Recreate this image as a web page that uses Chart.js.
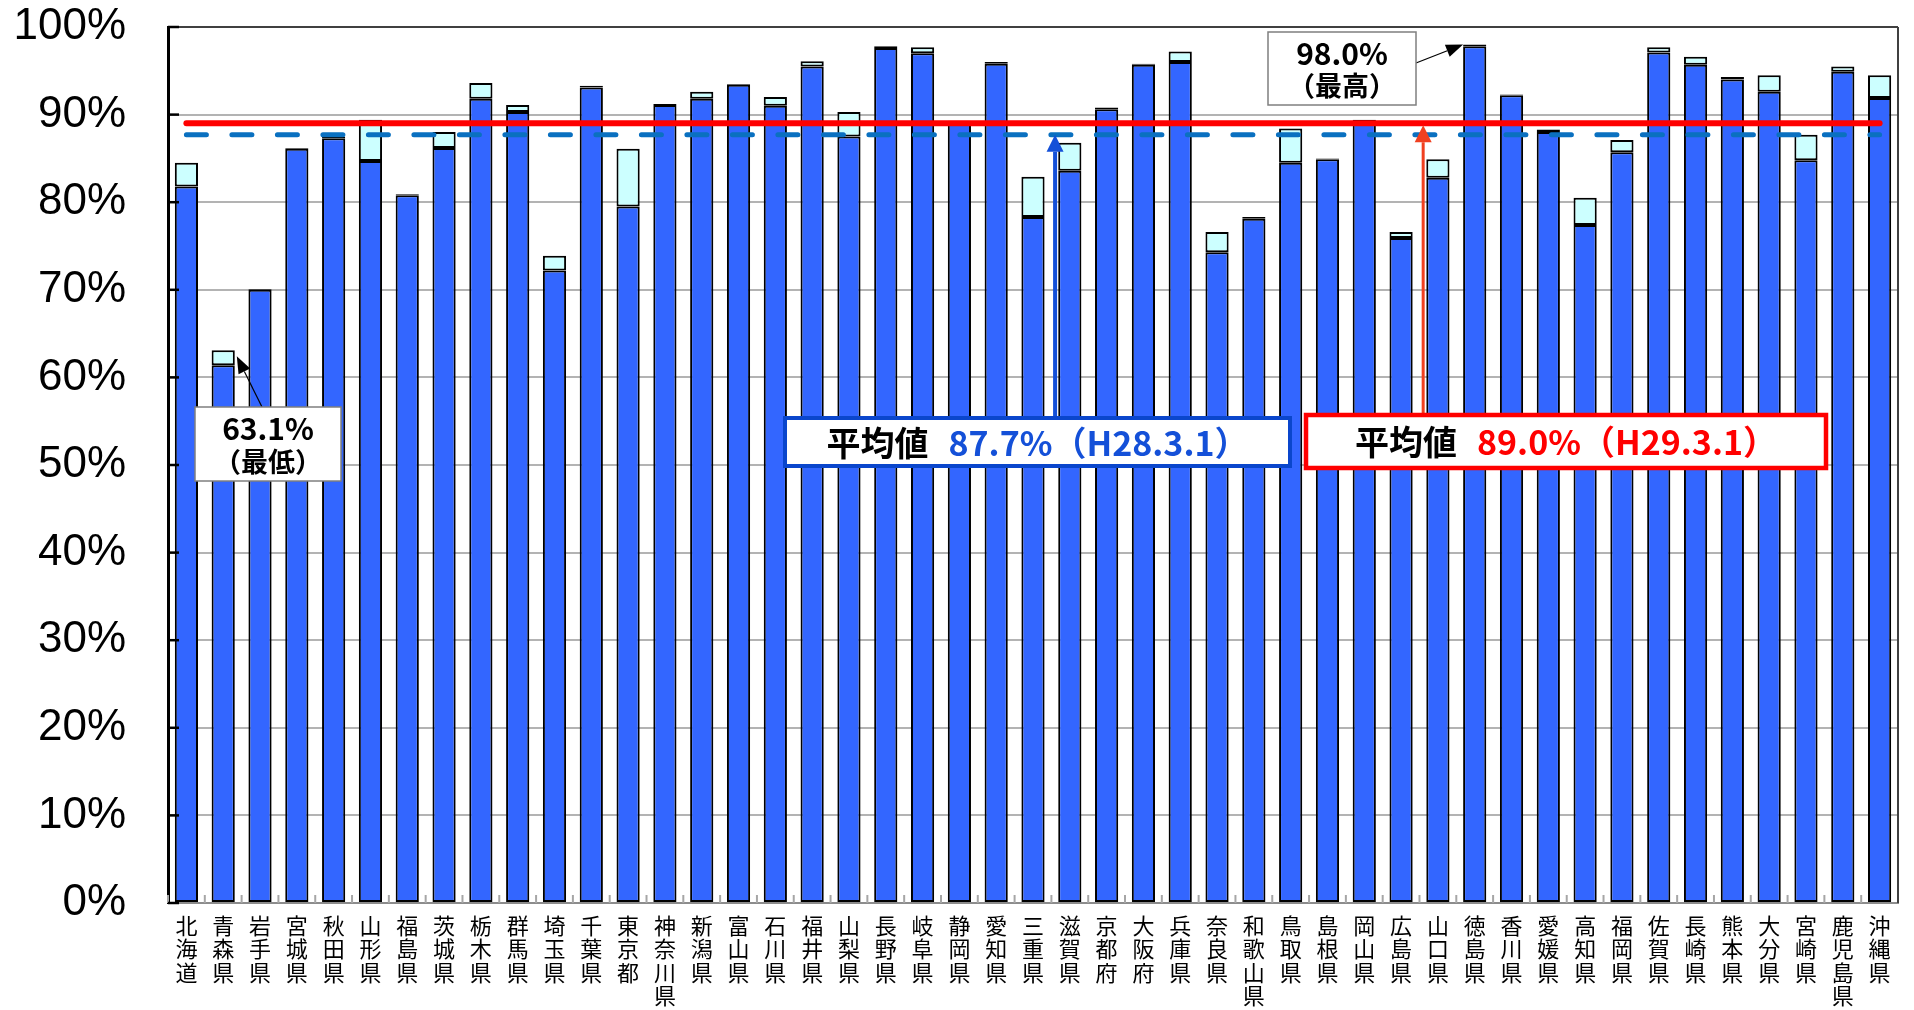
<!DOCTYPE html>
<html lang="ja">
<head>
<meta charset="utf-8">
<title>都道府県別 割合</title>
<script src="https://cdn.jsdelivr.net/npm/chart.js@4.4.1/dist/chart.umd.min.js"></script>
<style>
  html, body { margin: 0; padding: 0; background: #fff; }
  #wrap { position: relative; width: 1914px; height: 1010px; }
</style>
</head>
<body>
<div id="wrap"><canvas id="rateChart"></canvas></div>
<script>
const prefs = [
  "北海道", "青森県", "岩手県", "宮城県", "秋田県", "山形県", "福島県", "茨城県",
  "栃木県", "群馬県", "埼玉県", "千葉県", "東京都", "神奈川県", "新潟県", "富山県",
  "石川県", "福井県", "山梨県", "長野県", "岐阜県", "静岡県", "愛知県", "三重県",
  "滋賀県", "京都府", "大阪府", "兵庫県", "奈良県", "和歌山県", "鳥取県", "島根県",
  "岡山県", "広島県", "山口県", "徳島県", "香川県", "愛媛県", "高知県", "福岡県",
  "佐賀県", "長崎県", "熊本県", "大分県", "宮崎県", "鹿児島県", "沖縄県"
];
// H28.3.1
const rateH28 = [
  81.8, 61.4, 70.0, 86.1, 87.3, 84.7, 80.8, 86.2,
  91.8, 90.3, 72.2, 93.1, 79.5, 91.1, 91.8, 93.4,
  91.0, 95.5, 87.5, 97.6, 97.0, 89.1, 95.8, 78.3,
  83.6, 90.6, 95.7, 96.0, 74.3, 78.1, 84.5, 84.9,
  89.2, 75.9, 82.8, 97.8, 92.2, 88.0, 77.4, 85.7,
  97.1, 95.7, 94.0, 92.6, 84.8, 94.9, 91.9
];
// H29.3.1
const rateH29 = [
  84.5, 63.1, 70.1, 86.2, 87.5, 89.4, 80.9, 88.0,
  93.6, 91.1, 73.9, 93.3, 86.1, 91.2, 92.6, 93.5,
  92.0, 96.1, 90.3, 97.8, 97.7, 89.3, 96.0, 82.9,
  86.8, 90.8, 95.8, 97.2, 76.6, 78.3, 88.4, 85.0,
  89.4, 76.6, 84.9, 98.0, 92.3, 88.3, 80.5, 87.1,
  97.7, 96.6, 94.3, 94.5, 87.7, 95.5, 94.5
];
const avgH28 = 87.7;
const avgH29 = 89.0;
const yTickStep = 10;

const rateUp = rateH29.map((v, i) => Math.round((v - rateH28[i]) * 10) / 10);
const lowIdx = rateH29.indexOf(Math.min(...rateH29));
const highIdx = rateH29.indexOf(Math.max(...rateH29));
const firstPref = prefs[0];
const lastPref = prefs[prefs.length - 1];

const JP = '"Noto Sans CJK JP", "Noto Sans", sans-serif';

function arrow(ctx, x1, y1, x2, y2, color, w, hl, hw) {
  const ang = Math.atan2(y2 - y1, x2 - x1);
  const bx = x2 - hl * Math.cos(ang), by = y2 - hl * Math.sin(ang);
  ctx.strokeStyle = color;
  ctx.lineWidth = w;
  ctx.beginPath();
  ctx.moveTo(x1, y1);
  ctx.lineTo(bx, by);
  ctx.stroke();
  ctx.fillStyle = color;
  ctx.beginPath();
  ctx.moveTo(x2, y2);
  ctx.lineTo(bx + hw / 2 * Math.sin(ang), by - hw / 2 * Math.cos(ang));
  ctx.lineTo(bx - hw / 2 * Math.sin(ang), by + hw / 2 * Math.cos(ang));
  ctx.closePath();
  ctx.fill();
}

function avgBox(ctx, box, label, value, color, borderColor, lw) {
  ctx.fillStyle = "#fff";
  ctx.fillRect(box.x, box.y, box.w, box.h);
  ctx.strokeStyle = borderColor;
  ctx.lineWidth = lw;
  ctx.strokeRect(box.x, box.y, box.w, box.h);
  ctx.font = "bold 34px " + JP;
  ctx.textBaseline = "middle";
  ctx.textAlign = "left";
  const gap = 20;
  const w1 = ctx.measureText(label).width;
  const w2 = ctx.measureText(value).width;
  const tx = box.x + box.w / 2 - (w1 + gap + w2) / 2;
  const ty = box.y + box.h / 2 + 1;
  ctx.fillStyle = "#000";
  ctx.fillText(label, tx, ty);
  ctx.fillStyle = color;
  ctx.fillText(value, tx + w1 + gap, ty);
}

function callout(ctx, box, line1, line2) {
  ctx.fillStyle = "#fff";
  ctx.fillRect(box.x, box.y, box.w, box.h);
  ctx.strokeStyle = "#7f7f7f";
  ctx.lineWidth = 1.5;
  ctx.strokeRect(box.x, box.y, box.w, box.h);
  ctx.fillStyle = "#000";
  ctx.textAlign = "center";
  ctx.textBaseline = "middle";
  ctx.font = "bold 30px " + JP;
  ctx.fillText(line1, box.x + box.w / 2, box.y + box.h * 0.29);
  ctx.font = "bold 27px " + JP;
  ctx.fillText(line2, box.x + box.w / 2, box.y + box.h * 0.74);
}

const overlay = {
  id: "overlay",
  beforeDatasetsDraw(chart) {
    const { ctx, chartArea: a, scales: { x } } = chart;
    ctx.save();
    ctx.strokeStyle = "#a6a6a6";
    ctx.lineWidth = 2;
    for (let i = 0; i <= prefs.length; i++) {
      const px = x.getPixelForValue(i - 0.5);
      ctx.beginPath();
      ctx.moveTo(px, a.bottom);
      ctx.lineTo(px, a.bottom - 8);
      ctx.stroke();
    }
    ctx.restore();
  },
  afterDatasetsDraw(chart) {
    const { ctx, chartArea: a, scales: { x, y } } = chart;
    ctx.save();
    // frame right side
    ctx.strokeStyle = "#404040";
    ctx.lineWidth = 2;
    ctx.beginPath();
    ctx.moveTo(a.right, a.top);
    ctx.lineTo(a.right, a.bottom);
    ctx.stroke();
    // inner ticks on the value axis
    ctx.strokeStyle = "#000";
    ctx.lineWidth = 2.5;
    y.ticks.forEach(t => {
      const py = y.getPixelForValue(t.value);
      ctx.beginPath();
      ctx.moveTo(a.left, py);
      ctx.lineTo(a.left + 11, py);
      ctx.stroke();
    });

    // average markers
    const blueBox = { x: 785, y: 418, w: 505, h: 48 };
    const redBox = { x: 1306, y: 415, w: 520, h: 53 };
    const bx = x.getPixelForValue(23.6);
    arrow(ctx, bx, blueBox.y, bx, y.getPixelForValue(avgH28), "#1450d8", 4, 17, 17);
    const rx = x.getPixelForValue(33.6);
    arrow(ctx, rx, redBox.y, rx, y.getPixelForValue(avgH29) + 2, "#f04020", 3, 17, 17);
    avgBox(ctx, blueBox, "平均値", avgH28.toFixed(1) + "%（H28.3.1）", "#1450d8", "#0a46cc", 4);
    avgBox(ctx, redBox, "平均値", avgH29.toFixed(1) + "%（H29.3.1）", "#ff0000", "#ff0000", 4.5);

    // lowest / highest callouts
    const upMeta = chart.getDatasetMeta(1);
    const lowBar = upMeta.data[lowIdx];
    const highBar = upMeta.data[highIdx];
    const lowBox = { x: 195, y: 407, w: 146, h: 74 };
    const highBox = { x: 1268, y: 32, w: 148, h: 73 };
    arrow(ctx, lowBox.x + 67, lowBox.y, lowBar.x + lowBar.width / 2 + 2, lowBar.y + 6, "#000", 1.2, 17, 13);
    arrow(ctx, highBox.x + highBox.w, highBox.y + 31, highBar.x - highBar.width / 2, highBar.y, "#000", 1.2, 17, 13);
    callout(ctx, lowBox, rateH29[lowIdx].toFixed(1) + "%", "（最低）");
    callout(ctx, highBox, rateH29[highIdx].toFixed(1) + "%", "（最高）");
    ctx.restore();
  }
};

const ctx = document.getElementById("rateChart");
new Chart(ctx, {
  type: "bar",
  data: {
    labels: prefs,
    datasets: [
      {
        label: "H28.3.1",
        data: rateH28,
        backgroundColor: "#3366ff",
        borderColor: "#000",
        borderWidth: 2,
        borderSkipped: false,
        stack: "rate",
        order: 3
      },
      {
        label: "H29.3.1 増加分",
        data: rateUp,
        backgroundColor: "#ccffff",
        borderColor: "#000",
        borderWidth: 2,
        borderSkipped: false,
        stack: "rate",
        order: 3
      },
      {
        type: "line",
        label: "平均値 H28.3.1",
        data: [{ x: firstPref, y: avgH28 }, { x: lastPref, y: avgH28 }],
        borderColor: "#0a70c0",
        borderWidth: 5,
        borderDash: [20, 25.5],
        borderCapStyle: "round",
        pointRadius: 0,
        stack: "avg28",
        order: 1
      },
      {
        type: "line",
        label: "平均値 H29.3.1",
        data: [{ x: firstPref, y: avgH29 }, { x: lastPref, y: avgH29 }],
        borderColor: "#ff0000",
        borderWidth: 6,
        borderCapStyle: "round",
        pointRadius: 0,
        stack: "avg29",
        order: 2
      }
    ]
  },
  options: {
    responsive: true,
    maintainAspectRatio: false,
    animation: false,
    layout: { padding: { top: 27, right: 16, left: 0, bottom: 0 } },
    plugins: {
      legend: { display: false },
      tooltip: { enabled: false }
    },
    datasets: {
      bar: { categoryPercentage: 1, barPercentage: 0.63 }
    },
    scales: {
      x: {
        stacked: true,
        grid: { display: false, drawTicks: false },
        border: { color: "#8c8c8c", width: 2 },
        ticks: {
          color: "#000",
          padding: 11,
          maxRotation: 0,
          autoSkip: false,
          font: { family: JP, size: 22, lineHeight: 1.06 },
          callback: (v, i) => prefs[i].split("")
        },
        afterFit(scale) { scale.height = 107; }
      },
      y: {
        stacked: true,
        min: 0,
        max: 100,
        grid: {
          color: c => (c.tick && c.tick.value === 100 ? "#404040" : "#b3b3b3"),
          lineWidth: 2,
          drawTicks: true,
          tickLength: 42,
          tickColor: "rgba(0,0,0,0)"
        },
        border: { color: "#000", width: 3 },
        ticks: {
          stepSize: yTickStep,
          color: "#000",
          padding: 0,
          font: { family: '"Liberation Sans", Arial, sans-serif', size: 44 },
          callback: v => v + "%"
        },
        afterFit(scale) { scale.width = 168; }
      }
    }
  },
  plugins: [overlay]
});
</script>
</body>
</html>
